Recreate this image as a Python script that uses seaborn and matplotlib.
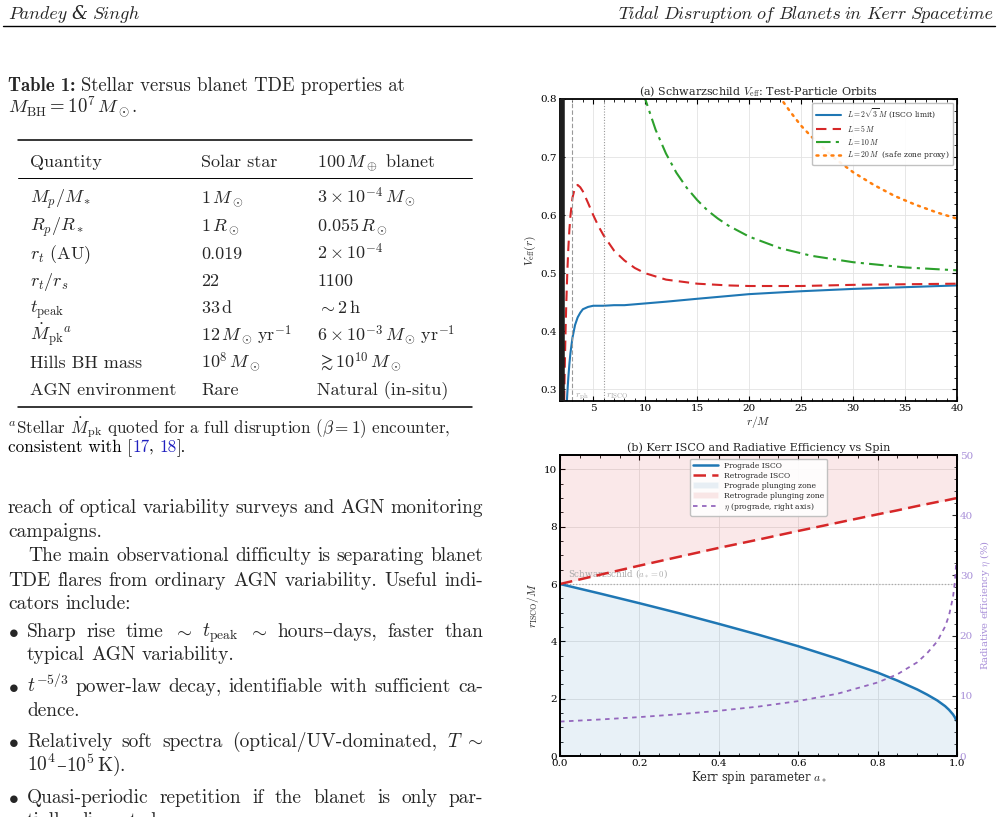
import matplotlib
matplotlib.use("Agg")
import matplotlib.pyplot as plt
import seaborn as sns
from matplotlib.ticker import MultipleLocator
from matplotlib.lines import Line2D
from matplotlib.patches import Patch

W, H = 1000, 817

# ---------------- data: panel (a) Schwarzschild V_eff ----------------
r_blue = [2.4, 2.45, 2.5, 2.6, 2.7, 2.8, 3.0, 3.25, 3.5, 3.75, 4.0, 4.5, 5.0, 6.0, 7.0, 8.0,
          10, 12, 15, 20, 25, 30, 35, 40]
v_blue = [0.257, 0.276, 0.292, 0.320, 0.343, 0.362, 0.389, 0.411, 0.424, 0.432, 0.438, 0.442,
          0.444, 0.444, 0.445, 0.445, 0.448, 0.451, 0.456, 0.464, 0.469, 0.473, 0.476, 0.479]
r_red = [2.2, 2.25, 2.3, 2.35, 2.4, 2.5, 2.6, 2.7, 2.8, 3.0, 3.25, 3.5, 3.75, 4.0, 4.5, 5.0,
         5.5, 6.0, 7.0, 8.0, 9.0, 10, 12, 15, 18, 20, 25, 30, 35, 40]
v_red = [0.280, 0.330, 0.373, 0.412, 0.445, 0.500, 0.542, 0.574, 0.598, 0.630, 0.648, 0.652,
         0.648, 0.641, 0.621, 0.600, 0.581, 0.565, 0.539, 0.522, 0.509, 0.500, 0.489, 0.482,
         0.479, 0.478, 0.478, 0.480, 0.481, 0.482]
r_green = [9.8, 10, 11, 12, 13, 14, 15, 16, 17, 18, 20, 23, 26, 30, 35, 40]
v_green = [0.812, 0.800, 0.747, 0.706, 0.673, 0.647, 0.626, 0.608, 0.594, 0.582, 0.563, 0.543,
           0.530, 0.519, 0.510, 0.505]
r_orange = [22.5, 23, 24, 25, 26, 28, 30, 32, 34, 36, 38, 40]
v_orange = [0.816, 0.802, 0.777, 0.754, 0.735, 0.701, 0.674, 0.652, 0.633, 0.618, 0.605, 0.594]
r_horizon, r_ph, r_isco = 2.0, 3.0, 6.0

# ---------------- data: panel (b) Kerr ISCO ----------------
spin = [0, 0.1, 0.2, 0.3, 0.4, 0.5, 0.6, 0.7, 0.8, 0.85, 0.9, 0.925, 0.95, 0.97, 0.98, 0.99,
        0.995, 0.998]
r_pro = [6.0, 5.67, 5.33, 4.98, 4.61, 4.23, 3.83, 3.39, 2.91, 2.63, 2.32, 2.14, 1.94, 1.74,
         1.61, 1.45, 1.34, 1.24]
r_retro = [6.0, 6.32, 6.64, 6.95, 7.26, 7.55, 7.85, 8.14, 8.43, 8.57, 8.72, 8.79, 8.86, 8.91,
           8.94, 8.97, 8.985, 8.99]
eta_pct = [5.72, 6.06, 6.46, 6.94, 7.51, 8.21, 9.12, 10.36, 12.21, 13.58, 15.57, 17.1, 19.02,
           21.49, 23.38, 26.4, 29.1, 32.1]
r_top = 10.5

# ---------------- data: table ----------------
col_heads = ["Quantity", "Solar star", r"100$\,M_\oplus$ blanet"]
col_quantity = [r"$M_p/M_*$", r"$R_p/R_*$", r"$r_t$ (AU)", r"$r_t/r_s$", r"$t_{\rm peak}$",
                r"$\dot{M}_{\rm pk}{}^{a}$", "Hills BH mass", "AGN environment"]
col_star = [r"$1\,M_\odot$", r"$1\,R_\odot$", "0.019", "22", r"$33\,{\rm d}$",
            r"$12\,M_\odot\,{\rm yr}^{-1}$", r"$10^8\,M_\odot$", "Rare"]
col_blanet = [r"$3\times10^{-4}\,M_\odot$", r"$0.055\,R_\odot$", r"$2\times10^{-4}$", "1100",
              r"$\sim2\,{\rm h}$", r"$6\times10^{-3}\,M_\odot\,{\rm yr}^{-1}$",
              r"$\gtrsim10^{10}\,M_\odot$", "Natural (in-situ)"]

sns.set_theme(style="ticks")
plt.rcParams.update({
    "font.family": ["DejaVu Serif"],
    "mathtext.fontset": "cm",
    "axes.unicode_minus": False,
})
ROMAN = ["cmr10", "DejaVu Serif"]
BOLD = ["cmb10", "DejaVu Serif"]
ITAL = ["cmmi10", "DejaVu Serif"]

fig = plt.figure(figsize=(W / 100, H / 100), dpi=100)
renderer = fig.canvas.get_renderer()


def fx(px):
    return px / W


def fy(py):
    return 1 - py / H


def put(x, y, s, size, family=ROMAN, **kw):
    return fig.text(fx(x), fy(y), s, fontsize=size, family=family, va="baseline", **kw)


def width(t):
    return t.get_window_extent(renderer).width


def line(x0, x1, y, words, size, justify=True, family=ROMAN, gap=None, **kw):
    texts = []
    for w in words:
        fam = family
        if isinstance(w, tuple):
            w, fam = w
        texts.append(put(0, y, w, size, fam, **kw))
    ws = [width(t) for t in texts]
    if justify and len(words) > 1:
        gap = (x1 - x0 - sum(ws)) / (len(words) - 1)
    elif gap is None:
        gap = size * 0.33 * 100 / 72
    x = x0
    for t, w in zip(texts, ws):
        t.set_x(fx(x))
        x += w + gap
    return texts, x - gap


def hrule(x0, x1, y, lw):
    fig.add_artist(Line2D([fx(x0), fx(x1)], [fy(y), fy(y)], transform=fig.transFigure,
                          color="black", lw=lw))


# ---------------- page header ----------------
HS = 13
line(8, 0, 19, ["Pandey", ("&", ["DejaVu Serif"]), "Singh"], HS, justify=False, family=ITAL,
     gap=5, style="italic")
head_texts, end = line(0, 0, 19, ["Tidal", "Disruption", "of", "Blanets", "in", "Kerr", "Spacetime"],
                       HS, justify=False, family=ITAL, gap=4)
for t in head_texts:
    t.set_x(t.get_position()[0] + fx(993 - end))
hrule(3, 995, 26, 1.0)

# ---------------- table ----------------
t = put(8, 91, "Table 1:", 13.5, BOLD)
put(8 + width(t) + 6, 91, "Stellar versus blanet TDE properties at", 13.5)
put(8, 113, r"$M_{\rm BH}=10^7\,M_\odot$.", 13.5)

hrule(18, 472, 140, 1.1)
hrule(18, 472, 178, 0.7)
hrule(18, 472, 407, 1.1)
col_x = [30, 201, 317]
for cx, head in zip(col_x, col_heads):
    put(cx, 167, head, 13)
row_y = [203, 231, 259, 286, 313, 341, 368, 395]
for ry, a, b, c in zip(row_y, col_quantity, col_star, col_blanet):
    put(col_x[0], ry, a, 13)
    put(col_x[1], ry, b, 13)
    put(col_x[2], ry, c, 13)

put(8, 433, r"$^a$Stellar $\dot{M}_{\rm pk}$ quoted for a full disruption ($\beta=1$) encounter,", 12.3)
xx = 8
for piece, col in [("consistent with [", "black"), ("17", "#1f1fbf"), (", ", "black"),
                   ("18", "#1f1fbf"), ("].", "black")]:
    tt = put(xx, 452, piece, 12.3, color=col)
    xx += width(tt)

# ---------------- body text ----------------
BS = 14
line(8, 483, 513, ["reach", "of", "optical", "variability", "surveys", "and", "AGN", "monitoring"], BS)
line(8, 483, 537, ["campaigns."], BS, justify=False)
line(28, 483, 561, ["The", "main", "observational", "difficulty", "is", "separating", "blanet"], BS)
line(8, 483, 586, ["TDE", "flares", "from", "ordinary", "AGN", "variability.", "Useful", "indi-"], BS)
line(8, 483, 609, ["cators", "include:"], BS, justify=False)
bullets = [
    (637, ["Sharp", "rise", "time", r"$\sim$", r"$t_{\rm peak}$", r"$\sim$", "hours–days,", "faster", "than"], True),
    (660, ["typical", "AGN", "variability."], False),
    (692, [r"$t^{-5/3}$", "power-law", "decay,", "identifiable", "with", "sufficient", "ca-"], True),
    (716, ["dence."], False),
    (747, ["Relatively", "soft", "spectra", "(optical/UV-dominated,", r"$T\ \sim$"], True),
    (803, ["Quasi-periodic", "repetition", "if", "the", "blanet", "is", "only", "par-"], True),
    (826, ["tially", "disrupted."], False),
]
for by, words, just in bullets:
    line(27, 483, by, words, BS, justify=just)
line(27, 0, 771, [r"$10^4$", "–", r"$10^5\,{\rm K}$)."], BS, justify=False, gap=0)
for by in [637, 692, 747, 803]:
    put(8, by, r"$\bullet$", BS)

# ---------------- chart styling ----------------
TICK = 7.5
LAB = 8.3


def style(ax, right=True):
    ax.tick_params(which="both", direction="in", top=True, right=right, labelsize=TICK,
                   colors="black", pad=2)
    ax.tick_params(which="major", length=3.5, width=0.8)
    ax.tick_params(which="minor", length=2, width=0.6)
    for s in ax.spines.values():
        s.set_linewidth(1.3)
        s.set_color("black")
    ax.grid(True, which="major", color="#e3e3e3", lw=0.6)
    ax.set_axisbelow(True)


# ---------------- panel (a) ----------------
axA = fig.add_axes([fx(560), fy(401), fx(957) - fx(560), fy(99) - fy(401)])
style(axA)
sns.lineplot(x=r_blue, y=v_blue, ax=axA, color="#1f77b4", lw=1.5, sort=False,
             label=r"$L=2\sqrt{3}\,M$ (ISCO limit)")
sns.lineplot(x=r_red, y=v_red, ax=axA, color="#d62728", lw=1.5, sort=False,
             linestyle=(0, (5, 3)), label=r"$L=5\,M$")
sns.lineplot(x=r_green, y=v_green, ax=axA, color="#2ca02c", lw=1.5, sort=False,
             linestyle=(0, (7, 2.5, 1.5, 2.5)), label=r"$L=10\,M$")
sns.lineplot(x=r_orange, y=v_orange, ax=axA, color="#ff7f0e", lw=1.8, sort=False,
             linestyle=(0, (0.8, 2.2)), dash_capstyle="round", label=r"$L=20\,M$  (safe zone proxy)")
axA.axvspan(0, r_horizon, color="#1e1e1e", zorder=5)
axA.axvline(r_horizon, color="#1e1e1e", lw=4, zorder=5)
axA.axvline(r_ph, color="#999999", lw=0.8, ls=(0, (4, 2)))
axA.axvline(r_isco, color="#999999", lw=0.8, ls=(0, (1, 1.5)))
axA.text(r_ph + 0.2, 0.287, r"$r_{\rm ph}$", fontsize=7, color="#aaaaaa")
axA.text(r_isco + 0.2, 0.287, r"$r_{\rm ISCO}$", fontsize=7, color="#aaaaaa")
axA.xaxis.set_major_locator(MultipleLocator(5))
axA.xaxis.set_minor_locator(MultipleLocator(1))
axA.yaxis.set_major_locator(MultipleLocator(0.1))
axA.yaxis.set_minor_locator(MultipleLocator(0.02))
axA.set_xlim(1.8, 40)
axA.set_ylim(0.28, 0.8)
axA.set_xlabel(r"$r/M$", fontsize=LAB, labelpad=1)
axA.set_ylabel(r"$V_{\rm eff}(r)$", fontsize=LAB, labelpad=2)
axA.set_title(r"(a) Schwarzschild $V_{\rm eff}$: Test-Particle Orbits", fontsize=8, pad=3)
axA.legend(loc="upper right", fontsize=5.5, frameon=True, edgecolor="#bbbbbb", framealpha=0.9,
           fancybox=True, handlelength=3.2, borderpad=0.5, labelspacing=0.35)

# ---------------- panel (b) ----------------
axB = fig.add_axes([fx(560), fy(756), fx(957) - fx(560), fy(455) - fy(756)])
style(axB, right=False)
axB.fill_between(spin, 0, r_pro, color="#1f77b4", alpha=0.1, lw=0)
axB.fill_between(spin, r_retro, r_top, color="#d62728", alpha=0.1, lw=0)
axB.axhline(r_isco, color="#aaaaaa", lw=0.9, ls=(0, (1, 1.5)))
axB.text(0.02, 6.25, r"Schwarzschild ($a_*=0$)", fontsize=6.3, color="#aaaaaa", zorder=1)
sns.lineplot(x=spin, y=r_pro, ax=axB, color="#1f77b4", lw=1.8, sort=False, legend=False)
sns.lineplot(x=spin, y=r_retro, ax=axB, color="#d62728", lw=1.8, sort=False,
             linestyle=(0, (5, 2.5)), legend=False)
axB.set_xlim(0, 1)
axB.set_ylim(0, r_top)
axB.xaxis.set_major_locator(MultipleLocator(0.2))
axB.xaxis.set_minor_locator(MultipleLocator(0.05))
axB.yaxis.set_major_locator(MultipleLocator(2))
axB.yaxis.set_minor_locator(MultipleLocator(0.5))
axB.set_xlabel(r"Kerr spin parameter $a_*$", fontsize=LAB, labelpad=1)
axB.set_ylabel(r"$r_{\rm ISCO}/M$", fontsize=LAB, labelpad=2)
axB.set_title("(b) Kerr ISCO and Radiative Efficiency vs Spin", fontsize=8, pad=3)

purple = "#9467bd"
light_purple = "#a88fd8"
axE = axB.twinx()
sns.lineplot(x=spin, y=eta_pct, ax=axE, color=purple, lw=1.3, sort=False,
             linestyle=(0, (2.5, 2.5)), legend=False)
axE.set_ylim(0, 50)
axE.yaxis.set_major_locator(MultipleLocator(10))
axE.yaxis.set_minor_locator(MultipleLocator(2))
axE.tick_params(which="both", direction="in", labelsize=TICK, labelcolor=light_purple, pad=2)
axE.tick_params(which="major", length=3.5, width=0.8)
axE.tick_params(which="minor", length=2, width=0.6)
axE.grid(False)
for s in axE.spines.values():
    s.set_linewidth(1.3)
    s.set_color("black")
axE.set_ylabel(r"Radiative efficiency $\eta$ (%)", fontsize=7.2, color=light_purple, labelpad=4)

handles = [
    Line2D([], [], color="#1f77b4", lw=1.8),
    Line2D([], [], color="#d62728", lw=1.8, ls=(0, (5, 2.5))),
    Patch(facecolor="#1f77b4", alpha=0.1),
    Patch(facecolor="#d62728", alpha=0.1),
    Line2D([], [], color=purple, lw=1.3, ls=(0, (2.5, 2.5))),
]
labels = ["Prograde ISCO", "Retrograde ISCO", "Prograde plunging zone",
          "Retrograde plunging zone", r"$\eta$ (prograde, right axis)"]
axE.legend(handles, labels, loc="upper center", fontsize=5.5, frameon=True, edgecolor="#bbbbbb",
           framealpha=0.9, handlelength=3.2, borderpad=0.4, labelspacing=0.25)

fig.savefig("out.png", dpi=100)
